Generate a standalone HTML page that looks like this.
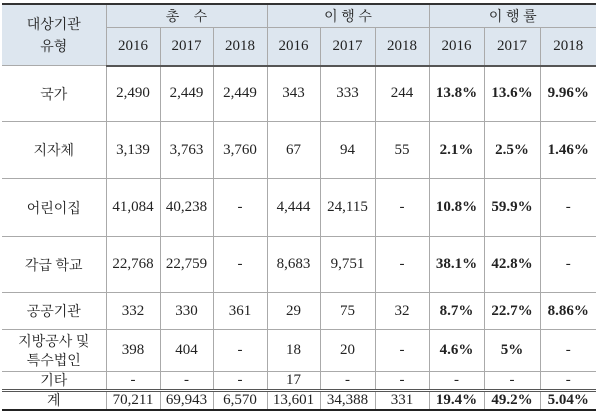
<!DOCTYPE html>
<html><head><meta charset="utf-8"><style>
html,body{margin:0;padding:0;background:#fff;width:600px;height:409px;overflow:hidden}
table{position:absolute;left:2px;top:3px;border-collapse:collapse;table-layout:fixed;font-family:"Liberation Serif","Noto Serif CJK SC","Noto Sans CJK KR",serif;font-size:15px;color:#222}
td{border:1px solid #aaa;text-align:center;vertical-align:middle;padding:0;white-space:nowrap;overflow:hidden}
tr.h td{background:#dde6ef}
tr.h1 td{border-top:2px solid #333}
tr.h2 td{border-bottom:2px solid #555}
td.f{border-left:none}
td.l{border-right:none}
b{font-weight:bold}
.k{font-family:"Noto Serif CJK SC","Noto Sans CJK KR",serif;font-size:14px;line-height:22px}
tr.tot td{border-top:3px double #555;border-bottom:2px solid #222}
</style></head><body>
<table>
<colgroup><col style="width:104px"><col style="width:54px"><col style="width:53px"><col style="width:54px"><col style="width:53px"><col style="width:55px"><col style="width:54px"><col style="width:55px"><col style="width:56px"><col style="width:56px"></colgroup>
<tr class="h h1" style="height:18px">
<td class="f k" rowspan="2">대상기관<br>유형</td>
<td colspan="3" class="k">총&nbsp;&nbsp;&nbsp;&nbsp;수</td>
<td colspan="3" class="k">이 행 수</td>
<td colspan="3" class="k l">이 행 률</td>
</tr>
<tr class="h h2" style="height:38px">
<td>2016</td><td>2017</td><td>2018</td><td>2016</td><td>2017</td><td>2018</td><td>2016</td><td>2017</td><td class="l">2018</td>
</tr>
<tr style="height:56px"><td class="f k">국가</td><td>2,490</td><td>2,449</td><td>2,449</td><td>343</td><td>333</td><td>244</td><td><b>13.8%</b></td><td><b>13.6%</b></td><td class="l"><b>9.96%</b></td></tr>
<tr style="height:57px"><td class="f k">지자체</td><td>3,139</td><td>3,763</td><td>3,760</td><td>67</td><td>94</td><td>55</td><td><b>2.1%</b></td><td><b>2.5%</b></td><td class="l"><b>1.46%</b></td></tr>
<tr style="height:58px"><td class="f k">어린이집</td><td>41,084</td><td>40,238</td><td>-</td><td>4,444</td><td>24,115</td><td>-</td><td><b>10.8%</b></td><td><b>59.9%</b></td><td class="l">-</td></tr>
<tr style="height:56px"><td class="f k">각급 학교</td><td>22,768</td><td>22,759</td><td>-</td><td>8,683</td><td>9,751</td><td>-</td><td><b>38.1%</b></td><td><b>42.8%</b></td><td class="l">-</td></tr>
<tr style="height:37px"><td class="f k">공공기관</td><td>332</td><td>330</td><td>361</td><td>29</td><td>75</td><td>32</td><td><b>8.7%</b></td><td><b>22.7%</b></td><td class="l"><b>8.86%</b></td></tr>
<tr style="height:42px"><td class="f k" style="line-height:19px">지방공사 및<br>특수법인</td><td>398</td><td>404</td><td>-</td><td>18</td><td>20</td><td>-</td><td><b>4.6%</b></td><td><b>5%</b></td><td class="l">-</td></tr>
<tr style="height:19px"><td class="f k" style="line-height:17px">기타</td><td>-</td><td>-</td><td>-</td><td>17</td><td>-</td><td>-</td><td>-</td><td>-</td><td class="l">-</td></tr>
<tr class="tot" style="height:19px"><td class="f k" style="line-height:17px">계</td><td>70,211</td><td>69,943</td><td>6,570</td><td>13,601</td><td>34,388</td><td>331</td><td><b>19.4%</b></td><td><b>49.2%</b></td><td class="l"><b>5.04%</b></td></tr>
</table>
</body></html>
